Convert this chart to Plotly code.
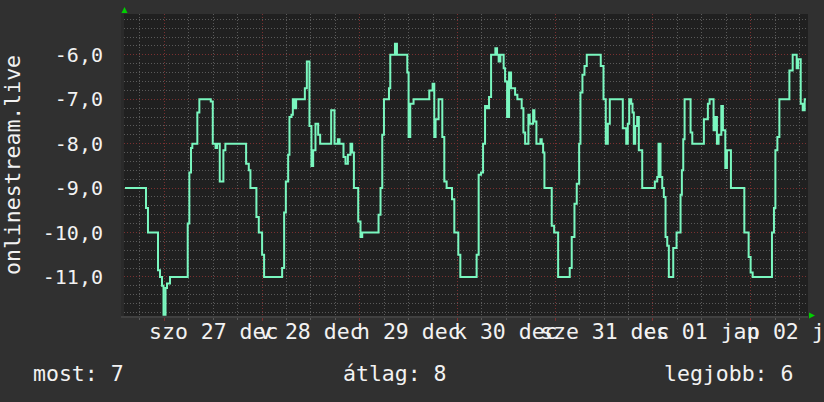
import pandas as pd
import plotly.graph_objects as go

# ---- data (hours after 2014-12-27 00:00, value) ----
hours = [-9.66, -4.50, -4.01, -1.55, -1.06, -0.57, -0.20, 0.30, 0.66, 1.40,
         5.75, 6.15, 6.56, 6.88, 8.11, 8.61, 11.41, 11.90, 12.59, 12.96, 13.62, 14.51, 15.00,
         20.09, 20.75, 21.15, 22.62, 23.21, 24.02, 24.51,
         28.94, 29.43, 29.85, 30.42, 30.74, 31.23, 31.57, 32.06, 32.38,
         34.52, 35.01, 35.65, 36.14, 36.56, 37.13, 37.79, 38.28,
         40.99, 41.80, 42.64, 43.03, 44.01, 44.50, 45.09, 45.73, 46.15, 46.57,
         47.63, 48.19, 48.61,
         52.62, 53.11, 53.53, 53.95, 55.18, 55.50, 56.65, 57.14, 59.68, 60.00, 60.41, 61.22,
         65.08, 65.90, 66.31, 66.63, 67.37, 68.28, 68.77, 69.34, 70.67, 71.23, 72.21, 72.71,
         76.71, 77.21, 77.80, 78.29, 78.78, 79.27, 79.76, 80.26, 81.31, 81.73, 82.12, 82.54,
         83.35, 83.70, 84.19, 84.68, 85.17,
         86.16, 86.72, 87.78, 88.20, 88.62, 89.43, 89.75, 90.58, 90.90, 91.39, 92.38, 92.70,
         93.04, 93.36,
         95.16, 95.75, 96.73,
         99.58, 100.07, 100.74, 101.30, 101.89, 102.21, 102.70, 103.20, 103.76, 107.20, 107.87,
         108.43, 108.93, 109.42,
         112.61, 113.45, 113.84, 114.19, 114.68, 115.00, 115.32, 115.66, 116.15, 116.55, 117.38,
         120.48, 121.07, 121.39, 121.88, 122.30, 122.69, 123.11, 123.53, 123.92, 125.00, 125.82,
         126.80, 127.12, 127.46, 127.79, 129.26, 129.68, 132.53, 133.51,
         133.93, 134.91, 135.33, 135.73, 136.14, 136.81, 137.20, 137.79, 138.19, 139.17,
         142.46, 143.52, 144.01, 144.51,
         149.25, 149.74, 150.09, 150.58, 151.07, 153.53, 154.34, 155.32, 155.64, 156.31, 156.80,
         157.29, 157.61]

values = [-9.0, -9.45, -10.0, -10.85, -11.0, -11.2, -11.85, -11.25, -11.15, -11.0,
          -9.8, -8.65, -8.1, -8.0, -7.3, -7.0, -7.05, -8.0, -8.1, -8.0, -8.85, -8.15, -8.0,
          -8.45, -8.6, -9.0, -9.65, -10.0, -10.5, -11.0,
          -10.8, -9.55, -8.85, -8.25, -7.4, -7.35, -7.0, -7.2, -7.0,
          -6.75, -6.15, -7.6, -8.5, -8.15, -7.55, -7.8, -8.0,
          -7.25, -8.0, -7.9, -8.0, -8.3, -8.45, -8.25, -8.0, -8.2, -9.0,
          -9.75, -10.1, -10.0,
          -9.6, -9.0, -7.8, -7.0, -6.75, -6.0, -5.75, -6.0, -6.4, -7.85, -7.1, -7.0,
          -6.8, -6.65, -7.85, -7.45, -7.0, -7.85, -8.85, -9.0, -9.25, -10.0, -10.5, -11.0,
          -10.5, -8.7, -8.65, -8.0, -7.15, -7.2, -6.95, -6.0, -5.85, -6.0, -6.15, -6.0,
          -6.3, -6.6, -7.4, -6.4, -6.75,
          -6.9, -7.0, -7.2, -7.75, -8.0, -7.35, -7.55, -7.25, -7.5, -8.0, -7.9, -8.0,
          -8.2, -9.0,
          -9.85, -10.0, -11.0,
          -10.8, -10.1, -9.35, -8.9, -8.0, -6.85, -6.45, -6.25, -6.0, -6.25, -7.0,
          -8.0, -7.55, -7.0,
          -7.65, -8.0, -7.55, -7.0, -7.1, -7.3, -8.0, -7.6, -7.4, -8.15, -9.0,
          -8.85, -8.75, -8.0, -8.75, -9.0, -9.2, -10.1, -10.3, -11.0, -10.35, -10.0,
          -9.15, -8.6, -7.9, -7.0, -7.75, -8.0, -7.45, -7.1,
          -7.0, -7.7, -7.4, -8.0, -7.8, -7.15, -7.7, -8.55, -8.15, -9.0,
          -10.0, -10.55, -10.9, -11.0,
          -10.0, -9.45, -8.15, -7.85, -7.0, -6.35, -6.0, -6.3, -6.1, -7.1, -7.25,
          -7.0, -7.0]

base_time = "2014-12-27 00:00"
x_range = ["2014-12-26 14:06", "2015-01-02 14:06"]

day_label_times = ["2014-12-27 12:00", "2014-12-28 12:00", "2014-12-29 12:00",
                   "2014-12-30 12:00", "2014-12-31 12:00", "2015-01-01 12:00",
                   "2015-01-02 12:00"]
day_labels = ["szo 27 dec", "v 28 dec", "h 29 dec", "k 30 dec", "sze 31 dec",
              "cs 01 jan", "p 02 jan"]
midnights = ["2014-12-27", "2014-12-28", "2014-12-29", "2014-12-30",
             "2014-12-31", "2015-01-01", "2015-01-02"]

y_tick_vals = [-6, -7, -8, -9, -10, -11]
y_tick_text = ["-6,0", "-7,0", "-8,0", "-9,0", "-10,0", "-11,0"]
y_range = [-11.88, -5.08]

y_title = "onlinestream.live"
summary_labels = ["most: 7", "átlag: 8", "legjobb: 6"]

# ---- figure ----
W, H = 824, 402
L, R, T, B = 124, 16, 14, 86
pw, ph = W - L - R, H - T - B

times = pd.Timestamp(base_time) + pd.to_timedelta(hours, unit="h")

FONT = "DejaVu Sans Mono"
TXT = "#f2f2f2"
LINE = "#7af7bf"
BIG = 21.5

fig = go.Figure()
fig.add_trace(go.Scatter(x=times, y=values, mode="lines",
                         line=dict(color=LINE, width=2, shape="hv"),
                         hoverinfo="skip", showlegend=False))


def px_x(p):
    return (p - L) / pw


def px_y(p):
    return (H - B - p) / ph


anns = []
for t, lab in zip(day_label_times, day_labels):
    anns.append(dict(x=t, xref="x", y=px_y(331.5), yref="paper", text=lab,
                     showarrow=False, xanchor="center", yanchor="middle",
                     font=dict(family=FONT, size=BIG, color=TXT)))

for lab, xp in zip(summary_labels, [30.5, 340.5, 661.5]):
    anns.append(dict(x=px_x(xp), xref="paper", y=px_y(373.5), yref="paper", text=lab,
                     showarrow=False, xanchor="left", yanchor="middle",
                     font=dict(family=FONT, size=BIG, color=TXT)))

anns.append(dict(x=px_x(12), xref="paper", y=px_y(165), yref="paper", text=y_title,
                 textangle=-90, showarrow=False, xanchor="center", yanchor="middle",
                 font=dict(family=FONT, size=BIG, color=TXT)))

shapes = [
    dict(type="path", xref="paper", yref="paper",
         path=f"M {px_x(121.5)},{px_y(13)} L {px_x(127.5)},{px_y(13)} L {px_x(124.5)},{px_y(7)} Z",
         fillcolor="#00d000", line=dict(width=0)),
    dict(type="path", xref="paper", yref="paper",
         path=f"M {px_x(809)},{px_y(312.5)} L {px_x(809)},{px_y(318.5)} L {px_x(815)},{px_y(315.5)} Z",
         fillcolor="#00d000", line=dict(width=0)),
]

fig.update_layout(
    width=W, height=H,
    margin=dict(l=L, r=R, t=T, b=B, pad=0),
    paper_bgcolor="#303030", plot_bgcolor="#202020",
    font=dict(family=FONT, size=20, color=TXT),
    showlegend=False,
    annotations=anns, shapes=shapes,
    xaxis=dict(type="date", range=x_range, tickmode="array", tickvals=midnights,
               showticklabels=False, ticks="outside", ticklen=3, tickcolor="#803030",
               showgrid=True, gridcolor="#7a3030", gridwidth=1, griddash="1px,2px",
               minor=dict(dtick=6 * 3600 * 1000, tick0="2014-12-27", showgrid=True,
                          gridcolor="#5a5a5a", griddash="1px,2px", ticks="outside",
                          ticklen=2, tickcolor="#5a5a5a"),
               showline=True, linecolor="#404040", linewidth=2,
               zeroline=False, fixedrange=True),
    yaxis=dict(range=y_range, tickmode="array", tickvals=y_tick_vals, ticktext=y_tick_text,
               ticks="", ticklabelstandoff=14,
               tickfont=dict(family=FONT, size=20, color=TXT),
               showgrid=True, gridcolor="#7a3030", gridwidth=1, griddash="1px,2px",
               minor=dict(tick0=-6, dtick=0.2, showgrid=True, gridcolor="#5a5a5a",
                          griddash="1px,2px"),
               showline=True, linecolor="#2a2a2a", linewidth=3,
               zeroline=False, fixedrange=True),
)

fig.write_html("out.html", config={"displayModeBar": False},
               post_script="document.body.style.margin='0';document.body.style.padding='0';")
